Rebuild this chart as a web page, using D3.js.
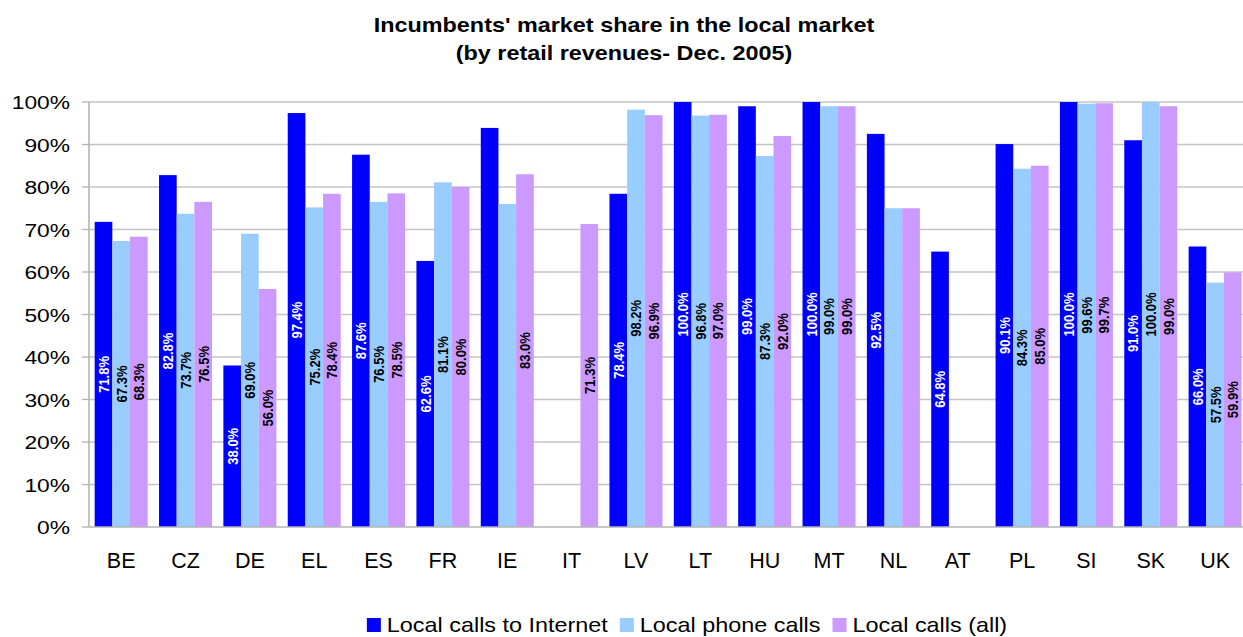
<!DOCTYPE html>
<html>
<head>
<meta charset="utf-8">
<script src="https://cdn.jsdelivr.net/npm/d3@7"></script>
<style>
  html, body { margin: 0; padding: 0; background: #fff; overflow: hidden; }
  svg { display: block; font-family: "Liberation Sans", Arial, sans-serif; }
</style>
</head>
<body>
<svg id="chart" width="1243" height="637"></svg>
<script>
// ---- Data ----
const categories = ["BE","CZ","DE","EL","ES","FR","IE","IT","LV","LT","HU","MT","NL","AT","PL","SI","SK","UK"];
const seriesNames = ["Local calls to Internet", "Local phone calls", "Local calls (all)"];
const internetCalls = [71.8, 82.8, 38.0, 97.4, 87.6, 62.6, 93.9, null, 78.4, 100.0, 99.0, 100.0, 92.5, 64.8, 90.1, 100.0, 91.0, 66.0];
const phoneCalls    = [67.3, 73.7, 69.0, 75.2, 76.5, 81.1, 76.0, null, 98.2, 96.8, 87.3, 99.0, 75.0, null, 84.3, 99.6, 100.0, 57.5];
const allCalls      = [68.3, 76.5, 56.0, 78.4, 78.5, 80.0, 83.0, 71.3, 96.9, 97.0, 92.0, 99.0, 75.0, null, 85.0, 99.7, 99.0, 59.9];
// whether a data label is printed on the bar
const internetLabelShown = [1,1,1,1,1,1,0,0,1,1,1,1,1,1,1,1,1,1];
const phoneLabelShown    = [1,1,1,1,1,1,0,0,1,1,1,1,0,0,1,1,1,1];
const allLabelShown      = [1,1,1,1,1,1,1,1,1,1,1,1,0,0,1,1,1,1];
const yTicks = [0,10,20,30,40,50,60,70,80,90,100];
const titleLines = ["Incumbents' market share in the local market", "(by retail revenues- Dec. 2005)"];

const seriesValues = [internetCalls, phoneCalls, allCalls];
const seriesLabels = [internetLabelShown, phoneLabelShown, allLabelShown];
const colors = ["#0000FF", "#99CCFF", "#CC99FF"];
const labelColors = ["#FFFFFF", "#000000", "#000000"];

// ---- Layout ----
const svg = d3.select("#chart");
const plot = { left: 89, top: 102, bottom: 527, right: 89 + 18 * 64.35 };

const x = d3.scaleBand().domain(categories).range([plot.left, plot.right]).paddingInner(0).paddingOuter(0);
const groupPad = (x.bandwidth() - 53) / 2;
const xs = d3.scaleBand().domain(d3.range(3)).range([groupPad, x.bandwidth() - groupPad]).padding(0);
const y = d3.scaleLinear().domain([0, 100]).range([plot.bottom, plot.top]);

// gridlines
svg.append("g").selectAll("line").data(yTicks.filter(d => d > 0)).join("line")
  .attr("x1", plot.left).attr("x2", plot.right)
  .attr("y1", d => y(d)).attr("y2", d => y(d))
  .attr("stroke", "#c4c4c4").attr("stroke-width", 1.3);

// bars
const rows = [];
categories.forEach((c, i) => {
  seriesValues.forEach((vals, s) => {
    if (vals[i] != null) rows.push({ cat: c, s, v: vals[i], show: seriesLabels[s][i] });
  });
});

svg.append("g").selectAll("rect").data(rows).join("rect")
  .attr("x", d => x(d.cat) + xs(d.s))
  .attr("width", xs.bandwidth())
  .attr("y", d => y(d.v))
  .attr("height", d => y(0) - y(d.v))
  .attr("fill", d => colors[d.s]);

// y axis line + ticks
const axisColor = "#b4b4b4";
svg.append("line").attr("x1", plot.left).attr("x2", plot.left).attr("y1", plot.top).attr("y2", plot.bottom)
  .attr("stroke", axisColor).attr("stroke-width", 1.6);
svg.append("line").attr("x1", plot.left).attr("x2", plot.right).attr("y1", plot.bottom).attr("y2", plot.bottom)
  .attr("stroke", axisColor).attr("stroke-width", 1.6);
svg.append("g").selectAll("line").data(yTicks).join("line")
  .attr("x1", plot.left - 7).attr("x2", plot.left)
  .attr("y1", d => y(d)).attr("y2", d => y(d))
  .attr("stroke", axisColor).attr("stroke-width", 1.3);

// y tick labels
svg.append("g").selectAll("text").data(yTicks).join("text")
  .attr("transform", d => `translate(70,${y(d) + 7}) scale(1.2,1)`)
  .attr("text-anchor", "end")
  .attr("font-size", 19)
  .attr("fill", "#000")
  .text(d => d + "%");

// category labels
svg.append("g").selectAll("text").data(categories).join("text")
  .attr("x", d => x(d) + x.bandwidth() / 2)
  .attr("y", 568)
  .attr("text-anchor", "middle")
  .attr("font-size", 21.5)
  .attr("fill", "#000")
  .text(d => d);

// data labels
svg.append("g").selectAll("text").data(rows.filter(d => d.show)).join("text")
  .attr("transform", d => {
    const cx = x(d.cat) + xs(d.s) + xs.bandwidth() / 2;
    const cy = (y(d.v) + y(0)) / 2;
    return `translate(${cx},${cy}) scale(1.15,1) rotate(-90)`;
  })
  .attr("text-anchor", "middle")
  .attr("dy", "0.36em")
  .attr("font-size", 13)
  .attr("font-weight", "bold")
  .attr("fill", d => labelColors[d.s])
  .text(d => d.v.toFixed(1) + "%");

// title
svg.append("g").selectAll("text").data(titleLines).join("text")
  .attr("transform", (d, i) => `translate(624,${32 + i * 28}) scale(1.2,1)`)
  .attr("text-anchor", "middle")
  .attr("font-size", 19.5)
  .attr("font-weight", "bold")
  .attr("fill", "#000")
  .text(d => d);

// legend
const legend = svg.append("g");
const legendStretch = 1.17;
const items = legend.selectAll("g").data(seriesNames).join("g");
items.append("rect").attr("width", 14).attr("height", 14).attr("y", -7)
  .attr("fill", (d, i) => colors[i]);
items.append("text")
  .attr("transform", `translate(20,7) scale(${legendStretch},1)`)
  .attr("font-size", 20)
  .attr("fill", "#000")
  .text(d => d);
let widths = [];
items.each(function() {
  const t = d3.select(this).select("text").node();
  widths.push(20 + t.getComputedTextLength() * legendStretch);
});
const gap = 12;
const total = d3.sum(widths) + gap * (widths.length - 1);
let cx = 687 - total / 2;
items.attr("transform", (d, i) => {
  const tx = cx;
  cx += widths[i] + gap;
  return `translate(${tx},625)`;
});
</script>
</body>
</html>
